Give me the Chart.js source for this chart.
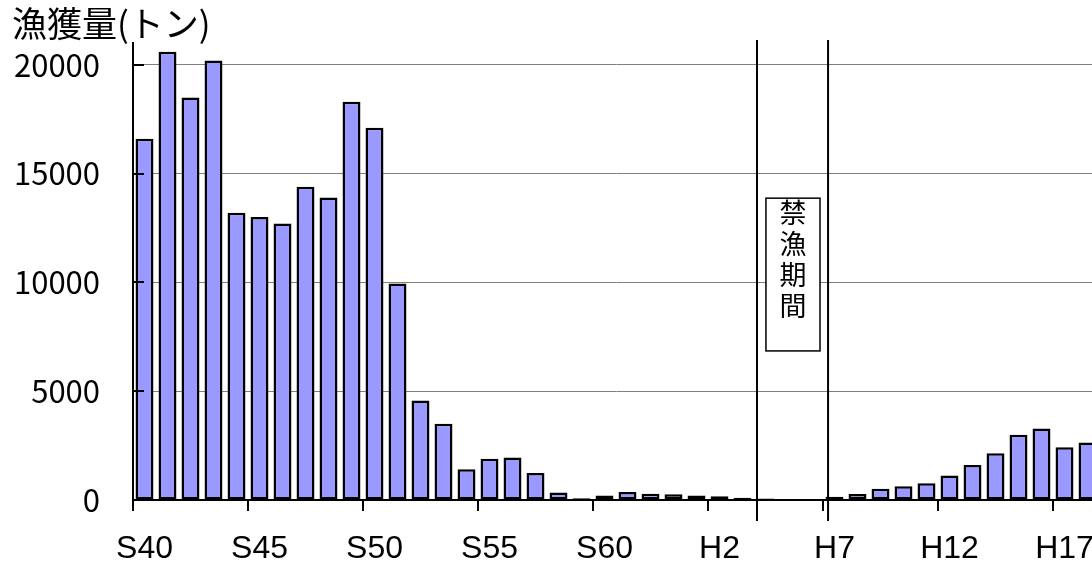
<!DOCTYPE html>
<html lang="ja">
<head>
<meta charset="utf-8">
<title>漁獲量</title>
<script src="https://cdn.jsdelivr.net/npm/chart.js@4.4.1/dist/chart.umd.min.js"></script>
<style>
    html, body { margin: 0; padding: 0; background: #fff; overflow: hidden; }
    #wrap { width: 1092px; height: 567px; overflow: hidden; }
</style>
</head>
<body>
<div id="wrap"><canvas id="catch_chart" width="1099" height="567"></canvas></div>
<script>
    "use strict";

    // 年次 (昭和40年〜平成18年)
    const years = [
        'S40', 'S41', 'S42', 'S43', 'S44', 'S45', 'S46', 'S47', 'S48', 'S49',
        'S50', 'S51', 'S52', 'S53', 'S54', 'S55', 'S56', 'S57', 'S58', 'S59',
        'S60', 'S61', 'S62', 'S63', 'H1', 'H2', 'H3', 'H4', 'H5', 'H6',
        'H7', 'H8', 'H9', 'H10', 'H11', 'H12', 'H13', 'H14', 'H15', 'H16',
        'H17', 'H18'
    ];

    // 漁獲量 (トン)
    const catchTons = [
        16600, 20600, 18500, 20200, 13200, 13000, 12700, 14400, 13900, 18300,
        17100, 9950, 4570, 3500, 1410, 1900, 1950, 1240, 350, 80,
        210, 370, 290, 260, 210, 170, 100, 70, 0, 0,
        150, 280, 520, 630, 770, 1130, 1610, 2150, 3000, 3280,
        2420, 2640
    ];

    const yTicks = [0, 5000, 10000, 15000, 20000];
    const titleText = '漁獲量(トン)';
    const banText = ['禁', '漁', '期', '間'];

    // 禁漁期間 の区切り線と囲み (x はカテゴリ単位, y はトン)
    const banLines = [26.63, 29.72];
    const banBoxX = [27.02, 29.37];
    const banBoxY = [13870, 6850];

    const jpFont = '"Noto Sans CJK JP", sans-serif';

    const banPlugin = {
        id: 'banPeriod',
        afterDraw(chart) {
            const ctx = chart.ctx;
            const x = chart.scales.x;
            const y = chart.scales.y;

            ctx.save();
            // 表題
            ctx.fillStyle = '#000';
            ctx.font = '35px ' + jpFont;
            ctx.textAlign = 'left';
            ctx.textBaseline = 'middle';
            ctx.fillText(titleText, 12, 24);

            ctx.strokeStyle = '#000';
            ctx.lineWidth = 2;
            // y 軸の内向き目盛
            yTicks.forEach(function (v) {
                if (v === 0) return;
                const py = Math.round(y.getPixelForValue(v));
                ctx.beginPath();
                ctx.moveTo(x.left, py);
                ctx.lineTo(x.left + 11, py);
                ctx.stroke();
            });
            // x 軸の目盛 (5年ごと)
            for (let i = 0; i <= years.length; i += 5) {
                const px = Math.round(x.getPixelForValue(i - 0.5));
                ctx.beginPath();
                ctx.moveTo(px, y.bottom);
                ctx.lineTo(px, y.bottom + 11);
                ctx.stroke();
            }

            // 縦線
            banLines.forEach(function (v) {
                const px = x.getPixelForValue(v);
                ctx.beginPath();
                ctx.moveTo(px, y.top - 3);
                ctx.lineTo(px, y.bottom + 21);
                ctx.stroke();
            });

            // 囲み
            const bx0 = x.getPixelForValue(banBoxX[0]);
            const bx1 = x.getPixelForValue(banBoxX[1]);
            const by0 = y.getPixelForValue(banBoxY[0]);
            const by1 = y.getPixelForValue(banBoxY[1]);
            ctx.fillStyle = '#fff';
            ctx.fillRect(bx0, by0, bx1 - bx0, by1 - by0);
            ctx.lineWidth = 1.5;
            ctx.strokeRect(bx0, by0, bx1 - bx0, by1 - by0);

            ctx.fillStyle = '#000';
            ctx.font = '27px ' + jpFont;
            ctx.textAlign = 'center';
            ctx.textBaseline = 'middle';
            banText.forEach(function (ch, i) {
                ctx.fillText(ch, (bx0 + bx1) / 2, by0 + 15 + i * 31);
            });
            ctx.restore();
        }
    };

    new Chart(document.getElementById('catch_chart'), {
        type: 'bar',
        data: {
            labels: years,
            datasets: [{
                label: '漁獲量',
                data: catchTons,
                backgroundColor: '#9999ff',
                borderColor: '#000',
                borderWidth: 2.5,
                borderSkipped: false,
                categoryPercentage: 1,
                barPercentage: 0.78
            }]
        },
        options: {
            responsive: false,
            animation: false,
            layout: {
                padding: { left: 12, right: 0, top: 43, bottom: 0 }
            },
            plugins: {
                legend: { display: false },
                tooltip: { enabled: false }
            },
            scales: {
                x: {
                    offset: true,
                    grid: {
                        offset: true,
                        drawOnChartArea: false,
                        tickLength: 30,
                        tickColor: 'rgba(0,0,0,0)'
                    },
                    border: { color: '#000', width: 2 },
                    ticks: {
                        autoSkip: false,
                        maxRotation: 0,
                        color: '#000',
                        padding: 0,
                        font: { family: '"Liberation Sans", Arial, sans-serif', size: 32 },
                        callback: function (value, index) {
                            return index % 5 === 0 ? this.getLabelForValue(value) : '';
                        }
                    },
                    afterFit: function (scale) {
                        scale.height = 67;
                    }
                },
                y: {
                    min: 0,
                    max: 21000,
                    afterBuildTicks: function (scale) {
                        scale.ticks = yTicks.map(function (v) { return { value: v }; });
                    },
                    grid: {
                        lineWidth: 1,
                        tickLength: 33,
                        tickColor: 'rgba(0,0,0,0)',
                        color: function (c) {
                            return c.tick && c.tick.value === 0 ? 'rgba(0,0,0,0)' : '#808080';
                        }
                    },
                    border: { color: '#000', width: 2 },
                    ticks: {
                        color: '#000',
                        padding: 0,
                        font: { family: jpFont, size: 31 },
                        callback: function (value) {
                            return String(value);
                        }
                    },
                    afterFit: function (scale) {
                        scale.width = 121;
                    }
                }
            }
        },
        plugins: [banPlugin]
    });
</script>
</body>
</html>
